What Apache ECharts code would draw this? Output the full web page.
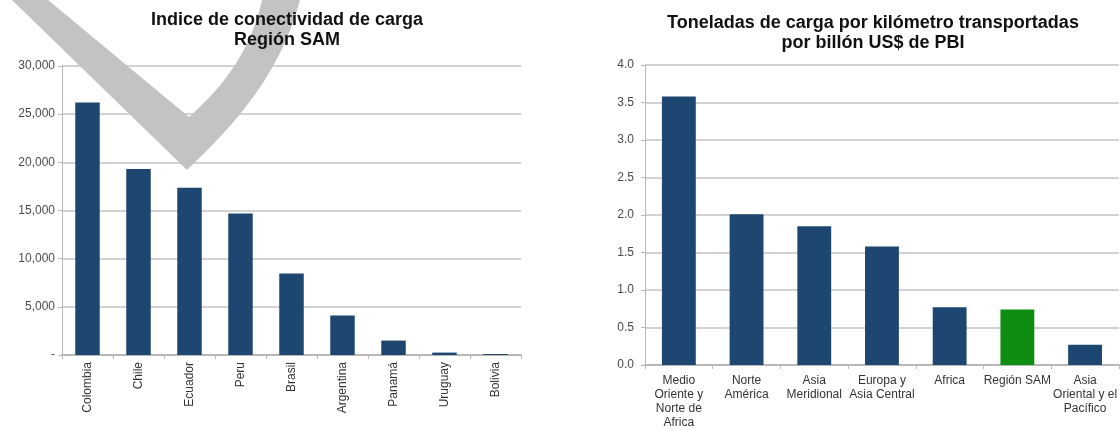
<!DOCTYPE html>
<html>
<head>
<meta charset="utf-8">
<script src="https://cdn.jsdelivr.net/npm/echarts@6/dist/echarts.min.js"></script>
<style>
html,body{margin:0;padding:0;background:#fff;}
#c{width:1120px;height:430px;}
</style>
</head>
<body>
<div id="c"></div>
<script>
// ---- Data ----
const leftTitle = 'Indice de conectividad de carga\nRegión SAM';
const leftCategories = ['Colombia','Chile','Ecuador','Peru','Brasil','Argentina','Panamá','Uruguay','Bolivia'];
const leftValues = [26200, 19300, 17350, 14700, 8450, 4100, 1500, 250, 100];
const leftTicks = [0, 5000, 10000, 15000, 20000, 25000, 30000];

const rightTitle = 'Toneladas de carga por kilómetro transportadas\npor billón US$ de PBI';
const rightCategories = ['Medio\nOriente y\nNorte de\nAfrica','Norte\nAmérica','Asia\nMeridional','Europa y\nAsia Central','Africa','Región SAM','Asia\nOriental y el\nPacífico'];
const rightValues = [3.58, 2.01, 1.85, 1.58, 0.77, 0.74, 0.27];
const rightTicks = [0, 0.5, 1.0, 1.5, 2.0, 2.5, 3.0, 3.5, 4.0];
const highlightCategory = 'Región SAM';

// ---- Styles ----
const FONT = '"Liberation Sans", Arial, sans-serif';
const NAVY = '#1d4671';
const GREEN = '#0f8c12';
const GRID_COLOR = '#d2d2d2';
const AXIS_COLOR = '#b8b8b8';

const chart = echarts.init(document.getElementById('c'), null, {renderer: 'canvas'});

function fmtThousands(v){
  if (v === 0) return '-';
  return String(v).replace(/\B(?=(\d{3})+(?!\d))/g, ',');
}

// decorative check-mark watermark outline (not data)
function bez(p0, p1, p2, p3, n){
  const out = [];
  for (let i = 0; i <= n; i++){
    const t = i / n, u = 1 - t;
    out.push([
      u*u*u*p0[0] + 3*u*u*t*p1[0] + 3*u*t*t*p2[0] + t*t*t*p3[0],
      u*u*u*p0[1] + 3*u*u*t*p1[1] + 3*u*t*t*p2[1] + t*t*t*p3[1]
    ]);
  }
  return out;
}
const markPts = [[12,0],[187,170]]
  .concat(bez([187,170],[226,132],[278,82],[300,0],16).slice(1))
  .concat([[262,0]])
  .concat(bez([262,0],[251,50],[224,86],[189,117],16).slice(1))
  .concat([[48,0]]);

const commonY = {
  type: 'value',
  axisLine: {show: true, lineStyle: {color: AXIS_COLOR, width: 1}},
  axisTick: {show: true, length: 4, lineStyle: {color: AXIS_COLOR}},
  splitLine: {show: true, lineStyle: {color: GRID_COLOR, width: 2}},
  axisLabel: {fontFamily: FONT, fontSize: 12, color: '#4a4a4a'}
};
const commonX = {
  type: 'category',
  axisLine: {show: true, lineStyle: {color: AXIS_COLOR, width: 2}},
  axisTick: {show: true, length: 4, alignWithLabel: false, lineStyle: {color: AXIS_COLOR}},
  splitLine: {show: false}
};

const option = {
  animation: false,
  backgroundColor: '#fff',
  title: [
    {text: leftTitle, left: 282, top: 5, textAlign: 'center',
     textStyle: {fontFamily: FONT, fontSize: 18, fontWeight: 'bold', color: '#111', lineHeight: 20}},
    {text: rightTitle, left: 868, top: 8, textAlign: 'center',
     textStyle: {fontFamily: FONT, fontSize: 18, fontWeight: 'bold', color: '#111', lineHeight: 20}}
  ],
  grid: [
    {left: 62, right: 599, top: 66, bottom: 75},
    {left: 645, right: 0, top: 65, bottom: 64}
  ],
  xAxis: [
    Object.assign({}, commonX, {gridIndex: 0, data: leftCategories,
      axisLabel: {rotate: 90, margin: 7, fontFamily: FONT, fontSize: 12, color: '#333', interval: 0}}),
    Object.assign({}, commonX, {gridIndex: 1, data: rightCategories,
      axisLabel: {margin: 9, fontFamily: FONT, fontSize: 12, color: '#333', lineHeight: 14, interval: 0, align: 'center'}})
  ],
  yAxis: [
    Object.assign({}, commonY, {gridIndex: 0, min: leftTicks[0], max: leftTicks[leftTicks.length-1], interval: leftTicks[1]-leftTicks[0],
      axisLabel: Object.assign({}, commonY.axisLabel, {margin: 7, formatter: fmtThousands})}),
    Object.assign({}, commonY, {gridIndex: 1, min: rightTicks[0], max: rightTicks[rightTicks.length-1], interval: rightTicks[1]-rightTicks[0],
      axisLabel: Object.assign({}, commonY.axisLabel, {margin: 11, formatter: v => v.toFixed(1)})})
  ],
  series: [
    {type: 'bar', xAxisIndex: 0, yAxisIndex: 0, data: leftValues, barWidth: '48%', z: 3,
     itemStyle: {color: NAVY}},
    {type: 'bar', xAxisIndex: 1, yAxisIndex: 1, data: rightValues, barWidth: '50%', z: 3,
     itemStyle: {color: p => rightCategories[p.dataIndex] === highlightCategory ? GREEN : NAVY}}
  ],
  graphic: [
    {type: 'polygon', silent: true, z: 1,
     shape: {points: markPts},
     style: {fill: '#c3c3c3'}}
  ]
};
chart.setOption(option);
</script>
</body>
</html>
